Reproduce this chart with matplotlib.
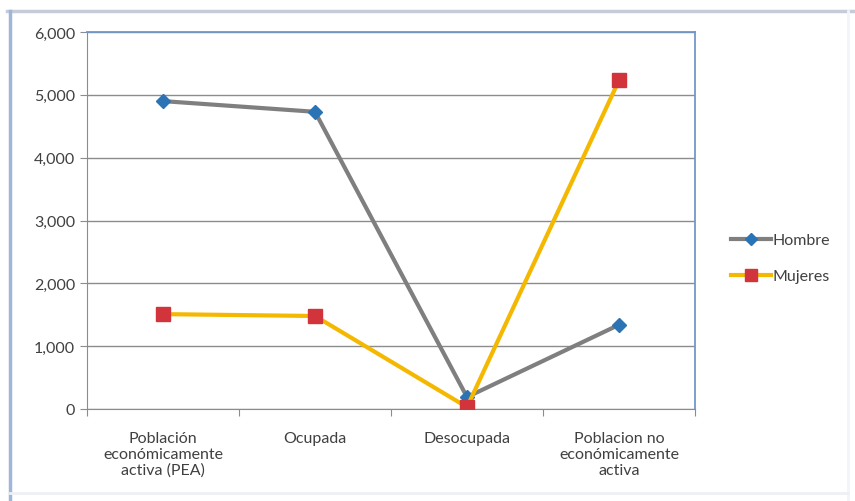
import matplotlib
matplotlib.use("Agg")
import matplotlib.pyplot as plt
from matplotlib.ticker import FuncFormatter, MultipleLocator
from matplotlib.lines import Line2D

categories = ["Población\neconómicamente\nactiva (PEA)", "Ocupada", "Desocupada",
              "Poblacion no\neconómicamente\nactiva"]
hombre = [4900, 4730, 190, 1340]
mujeres = [1510, 1480, 30, 5230]

plt.rcParams['font.family'] = ['Lato', 'DejaVu Sans']

fig = plt.figure(figsize=(8.55, 5.02), dpi=100)
fig.patch.set_facecolor('white')
W, H = 855, 502
# outer chart frame
fig.lines.append(Line2D([7/W, 1], [1-12/H, 1-12/H], transform=fig.transFigure,
                        color='#c5ccd8', linewidth=2.5))
fig.lines.append(Line2D([10/W, 10/W], [0, 1-12/H], transform=fig.transFigure,
                        color='#9fb6da', linewidth=2.5))
fig.lines.append(Line2D([848/W, 848/W], [0, 1-12/H], transform=fig.transFigure,
                        color='#f3f4f8', linewidth=2))
fig.lines.append(Line2D([10/W, 848/W], [1-494/H, 1-494/H], transform=fig.transFigure,
                        color='#eef0f4', linewidth=2))

ax = fig.add_axes([87/W, (H-410)/H, 608/W, 377/H])
x = [0.5, 1.5, 2.5, 3.5]
ax.plot(x, hombre, color='#7f7f7f', linewidth=3, marker='D', markersize=7,
        markerfacecolor='#2a73b5', markeredgecolor='#2a73b5', label='Hombre', zorder=3)
ax.plot(x, mujeres, color='#f5b800', linewidth=3, marker='s', markersize=10,
        markerfacecolor='#d2343c', markeredgecolor='#d2343c', label='Mujeres', zorder=3)

ax.set_xlim(0, 4)
ax.set_ylim(0, 6000)
ax.yaxis.set_major_locator(MultipleLocator(1000))
ax.yaxis.set_major_formatter(FuncFormatter(lambda v, p: f"{int(v):,}"))
ax.set_xticks([0, 1, 2, 3, 4])
ax.set_xticklabels([])
ax.set_xticks(x, minor=True)
ax.set_xticklabels(categories, minor=True, fontsize=11.5, color='#404040', linespacing=1.15)
ax.tick_params(axis='x', which='minor', length=0, pad=16)
ax.tick_params(axis='x', which='major', length=5, color='#8c8c8c', direction='out')
ax.tick_params(axis='y', length=5, color='#8c8c8c', labelsize=11.5, labelcolor='#404040')
ax.grid(axis='y', color='#8c8c8c', linewidth=1)
ax.set_axisbelow(True)
for s in ['left', 'bottom']:
    ax.spines[s].set_color('#8c8c8c')
for s in ['top', 'right']:
    ax.spines[s].set_color('#6f98c8')
    ax.spines[s].set_linewidth(1.3)

handles = [Line2D([], [], color='#7f7f7f', linewidth=3, marker='D', markersize=6,
                  markerfacecolor='#2a73b5', markeredgecolor='#2a73b5'),
           Line2D([], [], color='#f5b800', linewidth=3, marker='s', markersize=8,
                  markerfacecolor='#d2343c', markeredgecolor='#d2343c')]
leg = ax.legend(handles, ['Hombre', 'Mujeres'], loc='center left',
                bbox_to_anchor=(1.035, 0.40), frameon=False,
                fontsize=11.5, handlelength=2.5, labelspacing=1.35, handletextpad=0.1)
for t in leg.get_texts():
    t.set_color('#404040')

fig.savefig("out.png", dpi=100)
